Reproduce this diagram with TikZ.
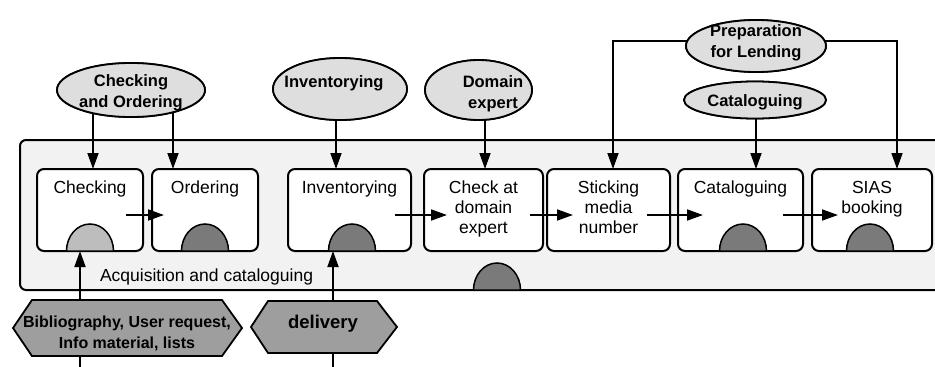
\documentclass[tikz,border=0pt]{standalone}
\usepackage{fontspec}
\setmainfont{Liberation Sans}
\usetikzlibrary{arrows.meta,shapes.geometric}

\definecolor{panel}{HTML}{F2F2F2}
\definecolor{ovalfill}{HTML}{DEDEDE}
\definecolor{moundlight}{HTML}{BDBDBD}
\definecolor{mounddark}{HTML}{7A7A7A}
\definecolor{hexfill}{HTML}{9E9E9E}

\begin{document}
\begin{tikzpicture}[x=1pt,y=-1pt,
  every node/.style={inner sep=0pt, outer sep=0pt},
  frame/.style={draw, line width=2pt, rounded corners=7pt},
  panelbox/.style={frame, fill=panel, rounded corners=6pt},
  taskbox/.style={frame, fill=white, minimum height=82pt},
  tasktext/.style={font=\fontsize{17.5}{20}\selectfont, align=center, anchor=north},
  oval/.style={ellipse, draw, line width=1.8pt, fill=ovalfill},
  ovaltext/.style={font=\bfseries\fontsize{16.5}{21}\selectfont, align=center},
  arr/.style={line width=1.8pt, -{Triangle[length=16pt,width=11pt]}},
  mound/.style={draw, line width=1.5pt, fill=mounddark},
  hexa/.style={draw, line width=1.8pt, fill=hexfill},
  hextext/.style={font=\bfseries\fontsize{16}{21}\selectfont, align=center},
]
\useasboundingbox (0,0) rectangle (935,367);
\clip (0,0) rectangle (935,367);

% process area
\node[panelbox, anchor=north west, minimum width=940pt, minimum height=150pt] (acq) at (20,140) {};
\node[font=\fontsize{17.5}{20}\selectfont, anchor=west] (acq-t) at (100,277) {Acquisition and cataloguing};

% task boxes
\node[taskbox, minimum width=106pt] (chk)  at (90,210)    {};
\node[taskbox, minimum width=106pt] (ord)  at (205,210)   {};
\node[taskbox, minimum width=123pt] (inv)  at (349.5,210) {};
\node[taskbox, minimum width=119pt] (cde)  at (483.5,210) {};
\node[taskbox, minimum width=123pt] (stk)  at (608.5,210) {};
\node[taskbox, minimum width=125pt] (cat)  at (740.5,210) {};
\node[taskbox, minimum width=120pt] (sias) at (872,210)   {};

% organisational units
\node[oval, minimum width=148pt, minimum height=54pt] (cao)   at (131,90)   {};
\node[oval, minimum width=134pt, minimum height=62pt] (invE)  at (340,89)   {};
\node[oval, minimum width=107pt, minimum height=60pt] (domE)  at (478.5,90) {};
\node[oval, minimum width=140pt, minimum height=52pt] (plend) at (756,46)   {};
\node[oval, minimum width=142pt, minimum height=37pt] (catE)  at (755,100)  {};

% input sources below the area
\coordinate (src1) at (80,372);
\coordinate (src2) at (333,372);

% responsibility arrows (shafts start inside the ovals)
\draw[arr] ([xshift=-38pt]cao.center) -- ([xshift=3pt]chk.north);
\draw[arr] ([xshift=42pt]cao.center) -- ([xshift=-32pt]ord.north);
\draw[arr] ([xshift=-4pt]invE.center) -- ([xshift=-13.5pt]inv.north);
\draw[arr] ([xshift=6.5pt]domE.center) -- ([xshift=1.5pt]cde.north);
\draw[arr] ([xshift=1pt]catE.center) -- ([xshift=15.5pt]cat.north);
\draw[arr] ([yshift=5pt]plend.center) -| ([xshift=4.5pt]stk.north);
\draw[arr] ([yshift=5pt]plend.center) -| ([xshift=25pt]sias.north);
\draw[arr] (src1) -- (src1 |- chk.south);
\draw[arr] (src2) -- (src2 |- inv.south);

% redraw ovals on top of the arrow shafts
\node[oval, minimum width=148pt, minimum height=54pt] at (cao)   {};
\node[oval, minimum width=134pt, minimum height=62pt] at (invE)  {};
\node[oval, minimum width=107pt, minimum height=60pt] at (domE)  {};
\node[oval, minimum width=140pt, minimum height=52pt] at (plend) {};
\node[oval, minimum width=142pt, minimum height=37pt] at (catE)  {};

\node[ovaltext] (cao-t)   at (131,93)   {Checking\\and Ordering};
\node[ovaltext] (invE-t)  at (334,83)   {Inventorying};
\node[ovaltext] (domE-t)  at (493,94)   {Domain\\expert};
\node[ovaltext] (plend-t) at (756,43)   {Preparation\\for Lending};
\node[ovaltext] (catE-t)  at (755,102)  {Cataloguing};

% input documents
\draw[hexa] (13,328) -- (32,300) -- (222,300) -- (242,328) -- (222,356) -- (32,356) -- cycle;
\node[hextext] (biblio) at (127,333) {Bibliography, User request,\\Info material, lists};
\draw[hexa] (251,327) -- (268,301) -- (377,301) -- (397,327) -- (377,353) -- (268,353) -- cycle;
\node[font=\bfseries\fontsize{18.5}{21}\selectfont] (deliv) at (323,324) {delivery};

% task labels
\node[tasktext] (chk-t)  at ([yshift=-12pt]chk.north)  {Checking};
\node[tasktext] (ord-t)  at ([yshift=-12pt]ord.north)  {Ordering};
\node[tasktext] (inv-t)  at ([yshift=-12pt]inv.north)  {Inventorying};
\node[tasktext] (cde-t)  at ([yshift=-12pt]cde.north)  {Check at\\domain\\expert};
\node[tasktext] (stk-t)  at ([yshift=-12pt]stk.north)  {Sticking\\media\\number};
\node[tasktext] (cat-t)  at ([yshift=-12pt]cat.north)  {Cataloguing};
\node[tasktext] (sias-t) at ([yshift=-12pt]sias.north) {SIAS\\booking};

% resource mounds
\draw[mound, fill=moundlight] ([xshift=-23.5pt]chk.south) arc[start angle=180, end angle=0, x radius=23.5pt, y radius=27pt] -- cycle;
\draw[mound] ([xshift=-23.5pt]ord.south) arc[start angle=180, end angle=0, x radius=23.5pt, y radius=27pt] -- cycle;
\draw[mound] ([xshift=-21pt]inv.south) arc[start angle=180, end angle=0, x radius=23.5pt, y radius=27pt] -- cycle;
\draw[mound] ([xshift=-21pt]cat.south) arc[start angle=180, end angle=0, x radius=23.5pt, y radius=27pt] -- cycle;
\draw[mound] ([xshift=-25.5pt]sias.south) arc[start angle=180, end angle=0, x radius=23.5pt, y radius=27pt] -- cycle;
\draw[mound] (473.5,290) arc[start angle=180, end angle=0, x radius=23.5pt, y radius=27pt] -- cycle;

% flow between tasks
\draw[arr] ([shift={(-17pt,-5pt)}]chk.east) -- ([shift={(12pt,-5pt)}]ord.west);
\draw[arr] ([shift={(-16pt,-5pt)}]inv.east) -- ([shift={(23pt,-5pt)}]cde.west);
\draw[arr] ([shift={(-13pt,-5pt)}]cde.east) -- ([shift={(26pt,-5pt)}]stk.west);
\draw[arr] ([shift={(-23pt,-5pt)}]stk.east) -- ([shift={(25pt,-5pt)}]cat.west);
\draw[arr] ([shift={(-20pt,-5pt)}]cat.east) -- ([shift={(26pt,-5pt)}]sias.west);
\end{tikzpicture}
\end{document}
